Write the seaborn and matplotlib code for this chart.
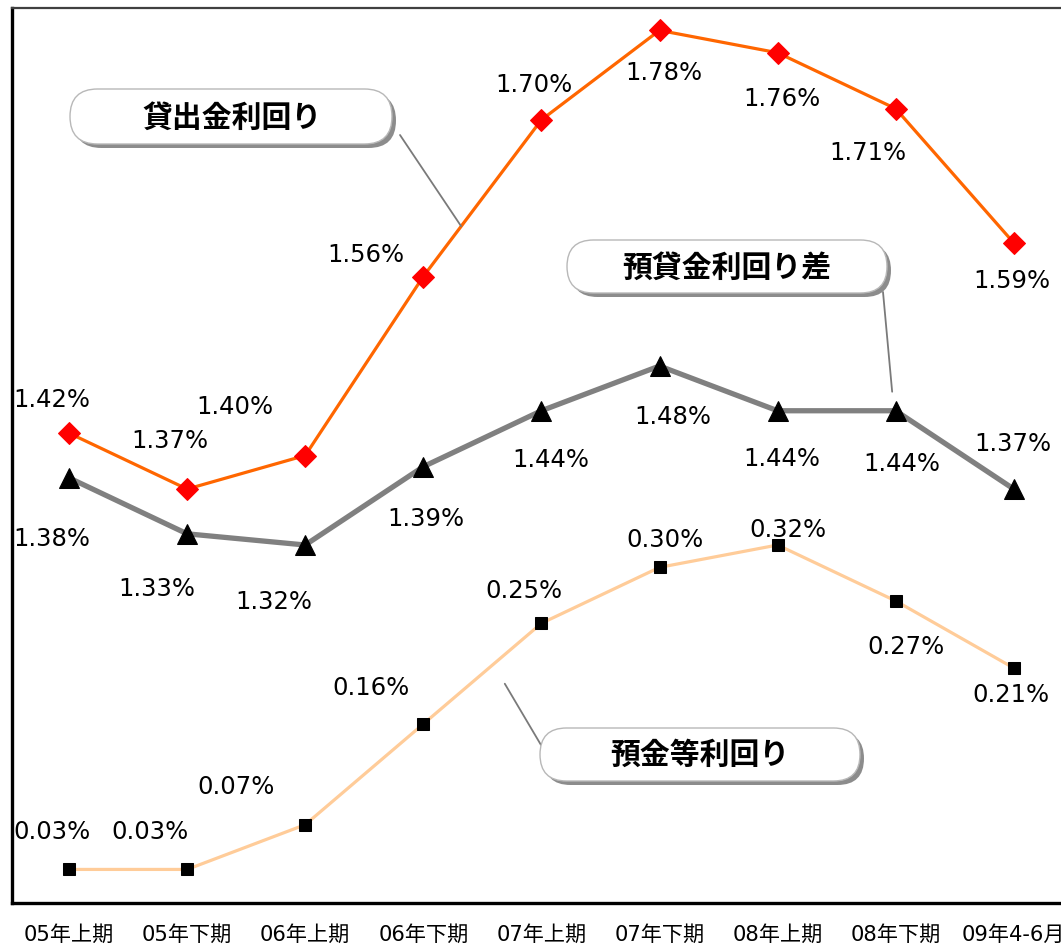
import numpy as np
import pandas as pd
import matplotlib
matplotlib.use("Agg")
import matplotlib.pyplot as plt
from matplotlib.patches import FancyBboxPatch
from matplotlib.transforms import IdentityTransform
import seaborn as sns

# ---- data -------------------------------------------------------------
periods = ["05年上期", "05年下期", "06年上期", "06年下期", "07年上期",
           "07年下期", "08年上期", "08年下期", "09年4-6月"]
loan_yield = [1.42, 1.37, 1.40, 1.56, 1.70, 1.78, 1.76, 1.71, 1.59]
spread = [1.38, 1.33, 1.32, 1.39, 1.44, 1.48, 1.44, 1.44, 1.37]
deposit_yield = [0.03, 0.03, 0.07, 0.16, 0.25, 0.30, 0.32, 0.27, 0.21]

# value-label offsets (pixels, relative to each point)
loan_off = [(-17, 33), (-17, 48), (-70, 49), (-57, 22), (-7, 35),
            (4, -43), (4, -46), (-28, -44), (-2, -38)]
spread_off = [(-17, -61), (-30, -55), (-31, -57), (3, -52), (9, -49),
              (13, -51), (4, -48), (6, -53), (-1, 45)]
deposit_off = [(-17, 37), (-37, 37), (-69, 38), (-52, 36), (-17, 32),
               (6, 27), (10, 15), (10, -46), (-3, -27)]

df = pd.DataFrame({"pos": np.arange(len(periods)), "period": periods,
                   "loan": loan_yield, "spread": spread,
                   "deposit": deposit_yield})

# ---- figure -------------------------------------------------------------
W, H = 1061, 946
sns.set_theme(style="white")
plt.rcParams["font.family"] = ["DejaVu Sans", "Noto Sans CJK JP"]
plt.rcParams["text.color"] = "black"
plt.rcParams["xtick.color"] = "black"

fig = plt.figure(figsize=(W / 100, H / 100), dpi=100)
fig.patch.set_facecolor("white")

step = 118.1          # pixels per category
ax_left, ax_right = 12, 1100
x_min = -(69 - ax_left) / step
x_max = x_min + (ax_right - ax_left) / step
ax = fig.add_axes([ax_left / W, (H - 903) / H,
                   (ax_right - ax_left) / W, (903 - 8) / H])
ax.set_facecolor("white")
ax.set_xlim(x_min, x_max)
ax.set_ylim(1.0, 1.8)

ax2 = ax.twinx()
ax2.set_ylim(0.0, 0.8)
ax2.set_xlim(x_min, x_max)

sns.lineplot(data=df, x="pos", y="loan", ax=ax, color="#FF6600", lw=2.3,
             marker="D", markersize=11, markerfacecolor="#FF0000",
             markeredgecolor="#FF0000", zorder=3)
sns.lineplot(data=df, x="pos", y="spread", ax=ax, color="#808080", lw=3.8,
             marker="^", markersize=15, markerfacecolor="black",
             markeredgecolor="black", zorder=3)
sns.lineplot(data=df, x="pos", y="deposit", ax=ax2, color="#FFCC99", lw=2.3,
             marker="s", markersize=9, markerfacecolor="black",
             markeredgecolor="black", zorder=3)

# value labels
lab_kw = dict(textcoords="offset pixels", ha="center", va="center",
              fontsize=17.5, color="black")
for i, (v, o) in enumerate(zip(loan_yield, loan_off)):
    ax.annotate(f"{v:.2f}%", xy=(i, v), xytext=o, **lab_kw)
for i, (v, o) in enumerate(zip(spread, spread_off)):
    ax.annotate(f"{v:.2f}%", xy=(i, v), xytext=o, **lab_kw)
for i, (v, o) in enumerate(zip(deposit_yield, deposit_off)):
    ax2.annotate(f"{v:.2f}%", xy=(i, v), xytext=o, **lab_kw)

# axes styling
for a in (ax, ax2):
    a.set_xlabel("")
    a.set_ylabel("")
    a.set_yticks([])
    a.grid(False)
ax.spines["right"].set_visible(False)
for s in ("top", "left", "bottom", "right"):
    ax2.spines[s].set_visible(False)
ax.spines["left"].set_color("black")
ax.spines["left"].set_linewidth(2.4)
ax.spines["bottom"].set_color("black")
ax.spines["bottom"].set_linewidth(2.4)
ax.spines["top"].set_color("#404040")
ax.spines["top"].set_linewidth(1.6)

ax.set_xticks(np.arange(len(periods) - 1) + 0.5)
ax.set_xticklabels([])
ax.tick_params(axis="x", which="major", direction="in", length=5,
               width=1.5, color="black", bottom=True)
ax.set_xticks(np.arange(len(periods)), minor=True)
ax.set_xticklabels(periods, minor=True, fontsize=15.2, color="black")
ax.tick_params(axis="x", which="minor", length=0, pad=16, bottom=True,
               labelcolor="black")
ax2.set_xticks([])

# ---- series callouts ---------------------------------------------------
pix = IdentityTransform()


def callout(x0, y0, x1, y1, text, tx, ty):
    h = y1 - y0
    shadow = FancyBboxPatch((x0 + 4, H - y1 - 4), x1 - x0, h,
                            boxstyle=f"round,pad=0,rounding_size={h / 2}",
                            transform=pix, facecolor="#8c8c8c",
                            edgecolor="none", zorder=5)
    box = FancyBboxPatch((x0, H - y1), x1 - x0, h,
                         boxstyle=f"round,pad=0,rounding_size={h / 2}",
                         transform=pix, facecolor="white",
                         edgecolor="#b8b8b8", lw=1.0, zorder=6)
    fig.add_artist(shadow)
    fig.add_artist(box)
    fig.text(tx, H - ty, text, transform=pix, ha="center", va="center",
             fontsize=21.5, fontweight="bold", color="black",
             family=["Noto Sans CJK JP"], zorder=7)


leader_kw = dict(textcoords="figure pixels",
                 arrowprops=dict(arrowstyle="-", color="#7a7a7a", lw=1.3,
                                 shrinkA=0, shrinkB=0))
ax.annotate("", xy=(3.32, 1.605), xytext=(400, H - 135), **leader_kw)
ax.annotate("", xy=(6.97, 1.457), xytext=(883, H - 292), **leader_kw)
ax2.annotate("", xy=(3.69, 0.196), xytext=(541, H - 745), **leader_kw)

callout(70, 89, 392, 144, "貸出金利回り", 232, 118)
callout(567, 240, 887, 293, "預貸金利回り差", 727, 268)
callout(540, 728, 860, 781, "預金等利回り", 700, 755)

fig.savefig("out.png", dpi=100, facecolor="white")
